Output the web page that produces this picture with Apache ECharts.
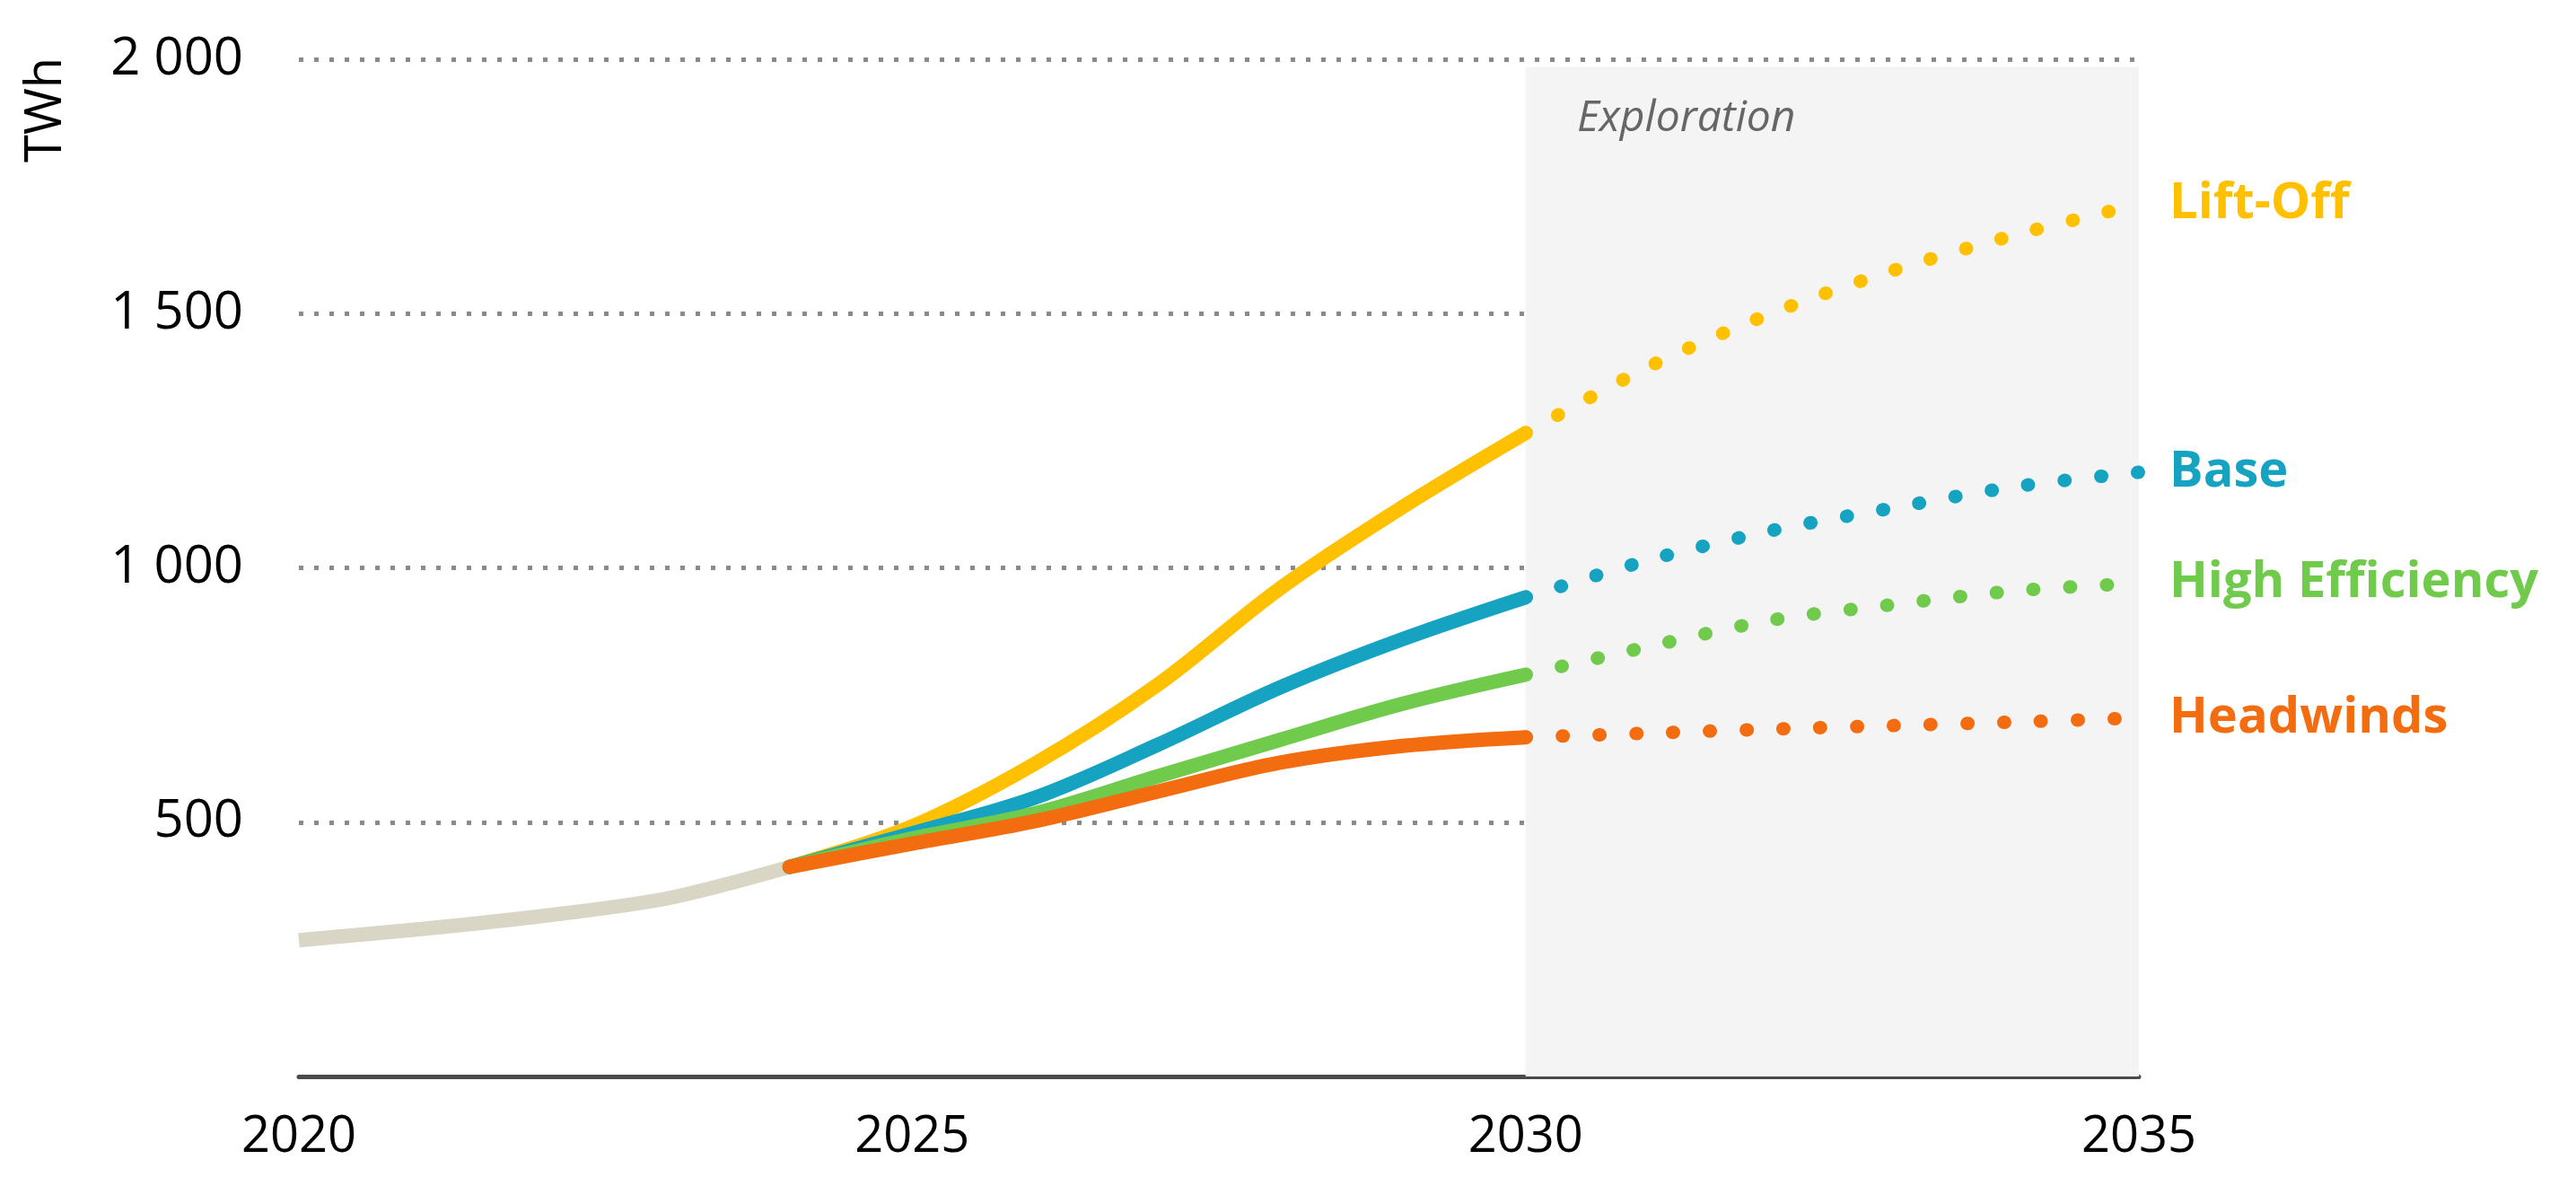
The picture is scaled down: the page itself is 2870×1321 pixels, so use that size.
<!DOCTYPE html>
<html>
<head>
<meta charset="utf-8">
<script src="https://cdn.jsdelivr.net/npm/echarts@6/dist/echarts.min.js"></script>
<style>
html,body{margin:0;padding:0;background:#fff;}
#chart{width:2870px;height:1321px;}
</style>
</head>
<body>
<div id="chart"></div>
<script>
// ---- data ----
const histYears = [2020, 2021, 2022, 2023, 2024];
const histValues = [268, 290, 316, 350, 412];

const solidYears = [2024, 2025, 2026, 2027, 2028, 2029, 2030];
const liftOffSolid = [412, 492, 615, 770, 960, 1120, 1265];
const baseSolid = [412, 478, 548, 652, 765, 860, 942];
const highEffSolid = [412, 468, 517, 590, 662, 733, 790];
const headwindsSolid = [412, 458, 502, 560, 617, 650, 667];

const dotYears = [2030, 2031, 2032, 2033, 2034, 2035];
const liftOffDot = [1265, 1395, 1500, 1585, 1655, 1715];
const baseDot = [942, 1015, 1073, 1118, 1160, 1188];
const highEffDot = [790, 845, 897, 928, 955, 970];
const headwindsDot = [667, 675, 683, 690, 697, 705];

const scenarioNames = ['Lift-Off', 'Base', 'High Efficiency', 'Headwinds'];
const yTicks = [0, 500, 1000, 1500, 2000];
const xTicks = [2020, 2025, 2030, 2035];
const explorationRange = [2030, 2035];

const colors = {
  'Lift-Off': '#FFC000',
  'Base': '#16A3C2',
  'High Efficiency': '#70CA4B',
  'Headwinds': '#F36C10'
};

function pairs(xs, ys) { return xs.map((x, i) => [x, ys[i]]); }
function fmt(v) { return String(v).replace(/\B(?=(\d{3})+(?!\d))/g, ' '); }

const solids = [liftOffSolid, baseSolid, highEffSolid, headwindsSolid];
const dots = [liftOffDot, baseDot, highEffDot, headwindsDot];

const series = [];
series.push({
  type: 'line', name: 'History', data: pairs(histYears, histValues),
  smooth: 0.3, symbol: 'none',
  lineStyle: { color: '#D9D6C6', width: 16, cap: 'butt' },
  markArea: {
    silent: true,
    itemStyle: { color: '#F4F4F4' },
    data: [[{ xAxis: explorationRange[0], yAxis: 0 }, { xAxis: explorationRange[1], yAxis: 1985 }]]
  },
  z: 2
});
scenarioNames.forEach((n, i) => {
  series.push({
    type: 'line', name: n + ' dotted', data: pairs(dotYears, dots[i]),
    smooth: 0.3, symbol: 'none',
    lineStyle: { color: colors[n], width: 15, type: [1, 40], cap: 'round' },
    endLabel: {
      show: true, formatter: n, color: colors[n], distance: 34,
      fontFamily: 'Open Sans', fontWeight: 'bold', fontSize: 56
    },
    z: 3
  });
});
scenarioNames.forEach((n, i) => {
  series.push({
    type: 'line', name: n, data: pairs(solidYears, solids[i]),
    smooth: 0.35, symbol: 'none',
    lineStyle: { color: colors[n], width: 16, cap: 'round' },
    z: 4 + i
  });
});

const chart = echarts.init(document.getElementById('chart'));
chart.setOption({
  animation: false,
  backgroundColor: '#fff',
  grid: { left: 333, right: 487, top: 66, bottom: 122 },
  xAxis: {
    type: 'value', min: xTicks[0], max: xTicks[xTicks.length - 1], interval: 5,
    axisLine: { show: true, lineStyle: { color: '#4a4a4a', width: 5 } },
    axisTick: { show: false },
    splitLine: { show: false },
    axisLabel: { color: '#000', fontFamily: 'Open Sans', fontSize: 56, margin: 40, formatter: v => String(v) }
  },
  yAxis: {
    type: 'value', min: yTicks[0], max: yTicks[yTicks.length - 1], interval: 500,
    axisLine: { show: false }, axisTick: { show: false },
    splitLine: { show: true, lineStyle: { color: '#8a8a8a', width: 5, type: [5, 12] } },
    axisLabel: { color: '#000', fontFamily: 'Open Sans', fontSize: 58, margin: 62,
      formatter: v => v === 0 ? '' : fmt(v) }
  },
  graphic: [
    { type: 'text', left: 24, top: 64, rotation: Math.PI / 2, z: 100,
      style: { text: 'TWh', fontFamily: 'Open Sans', fontSize: 56, fill: '#000' } },
    { type: 'text', left: 1757, top: 108, z: 100,
      style: { text: 'Exploration', fontFamily: 'Open Sans', fontStyle: 'italic', fontSize: 48, fill: '#666' } }
  ],
  series: series
});
</script>
</body>
</html>
